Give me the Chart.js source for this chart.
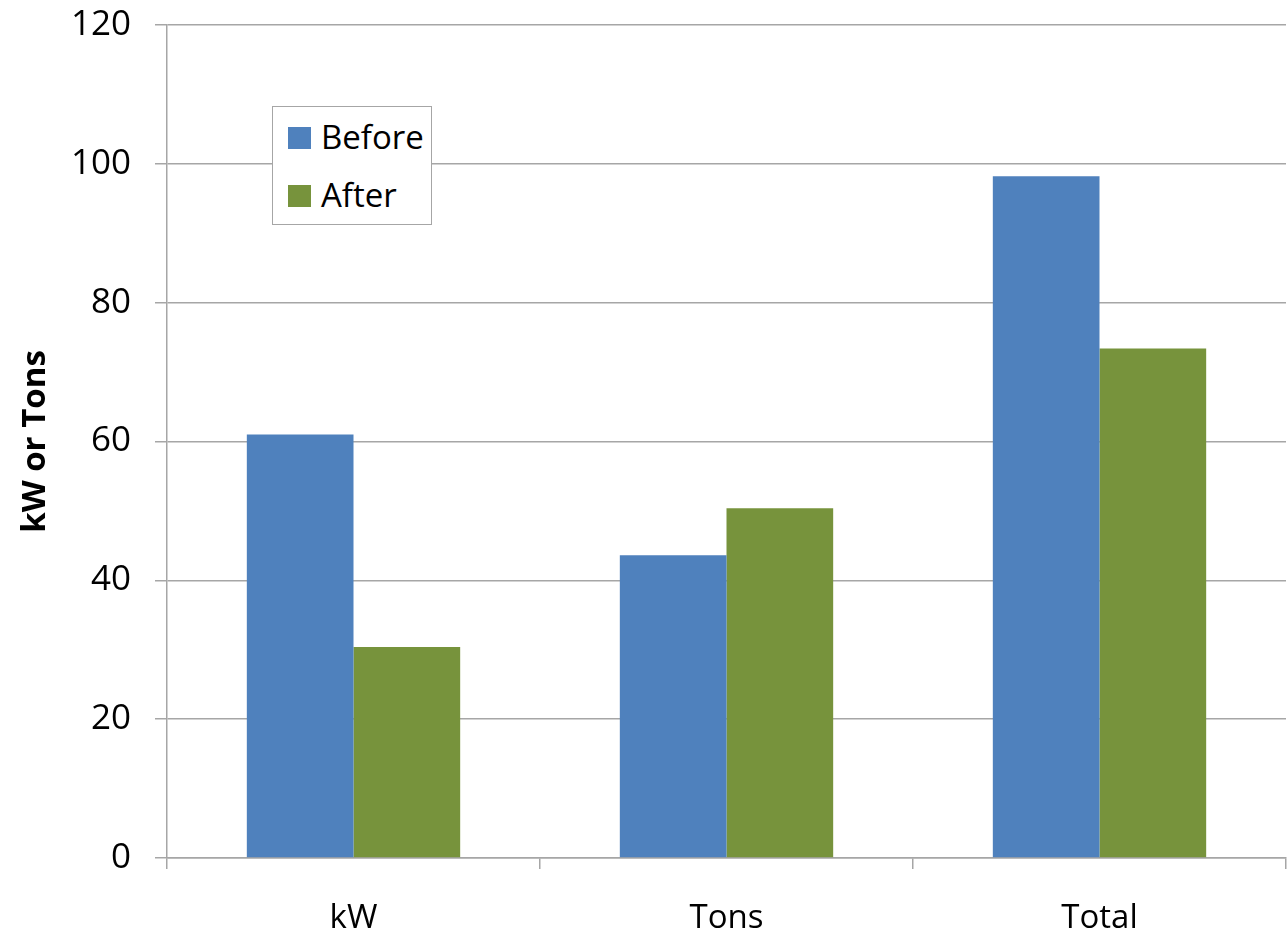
<!DOCTYPE html>
<html>
<head>
<meta charset="utf-8">
<script src="https://cdn.jsdelivr.net/npm/chart.js@4"></script>
<style>
    body { margin: 0; background: #fff; }
    #wrap { position: relative; width: 1288px; height: 935px; }
    #legend {
        position: absolute; left: 272px; top: 106px; width: 158px; height: 117px;
        border: 1.5px solid #a6a6a6; background: #fff;
        font-family: 'Open Sans', sans-serif; font-size: 33px; color: #000;
    }
    .item { position: absolute; left: 15px; height: 40px; line-height: 40px; }
    .item span.box { display: inline-block; width: 23px; height: 22px; vertical-align: middle; margin-right: 10px; position: relative; top: -2px; }
</style>
</head>
<body>
<div id="wrap">
    <canvas id="chart" width="1288" height="935"></canvas>
    <div id="legend"></div>
</div>
<script>
// Chart data
const categories = ['kW', 'Tons', 'Total'];
const beforeValues = [61, 43.6, 98.2];
const afterValues = [30.4, 50.4, 73.4];
const seriesNames = ['Before', 'After'];
const seriesColors = ['#4f81bd', '#77933c'];

const gridColor = '#a6a6a6';
const font = 'Open Sans';

new Chart(document.getElementById('chart').getContext('2d'), {
    type: 'bar',
    data: {
        labels: categories,
        datasets: [
            { label: seriesNames[0], data: beforeValues, backgroundColor: seriesColors[0] },
            { label: seriesNames[1], data: afterValues, backgroundColor: seriesColors[1] }
        ]
    },
    options: {
        animation: false,
        responsive: false,
        layout: { padding: { top: 25, right: 2, left: 0, bottom: 0 } },
        categoryPercentage: 0.572,
        barPercentage: 1,
        plugins: {
            legend: { display: false },
            tooltip: { enabled: false }
        },
        scales: {
            x: {
                grid: {
                    offset: true,
                    drawOnChartArea: false,
                    color: gridColor,
                    lineWidth: 1.5,
                    tickLength: 11
                },
                border: { color: gridColor, width: 1.5 },
                ticks: {
                    color: '#000',
                    font: { family: font, size: 33 },
                    padding: 30
                },
                afterFit: (scale) => {
                    scale.height = 77;
                    scale.paddingLeft = 0;
                    scale.paddingRight = 0;
                }
            },
            y: {
                min: 0,
                max: 120,
                ticks: {
                    stepSize: 20,
                    color: '#000',
                    font: { family: font, size: 35 },
                    padding: 24
                },
                grid: { color: gridColor, lineWidth: 1.5, tickLength: 12 },
                border: { color: gridColor, width: 1.5 },
                title: {
                    display: true,
                    text: 'kW or Tons',
                    color: '#000',
                    font: { family: font, size: 33, weight: 'bold' },
                    padding: { top: 16, bottom: 0 }
                },
                afterFit: (scale) => {
                    scale.width = 167;
                    scale.paddingTop = 0;
                    scale.paddingBottom = 0;
                }
            }
        }
    }
});

// Legend box drawn inside the plot area, like the source chart
const legend = document.getElementById('legend');
seriesNames.forEach((name, i) => {
    const item = document.createElement('div');
    item.className = 'item';
    item.style.top = (i === 0 ? 10 : 68) + 'px';
    item.innerHTML = `<span class="box" style="background:${seriesColors[i]}"></span>${name}`;
    legend.appendChild(item);
});
</script>
</body>
</html>
